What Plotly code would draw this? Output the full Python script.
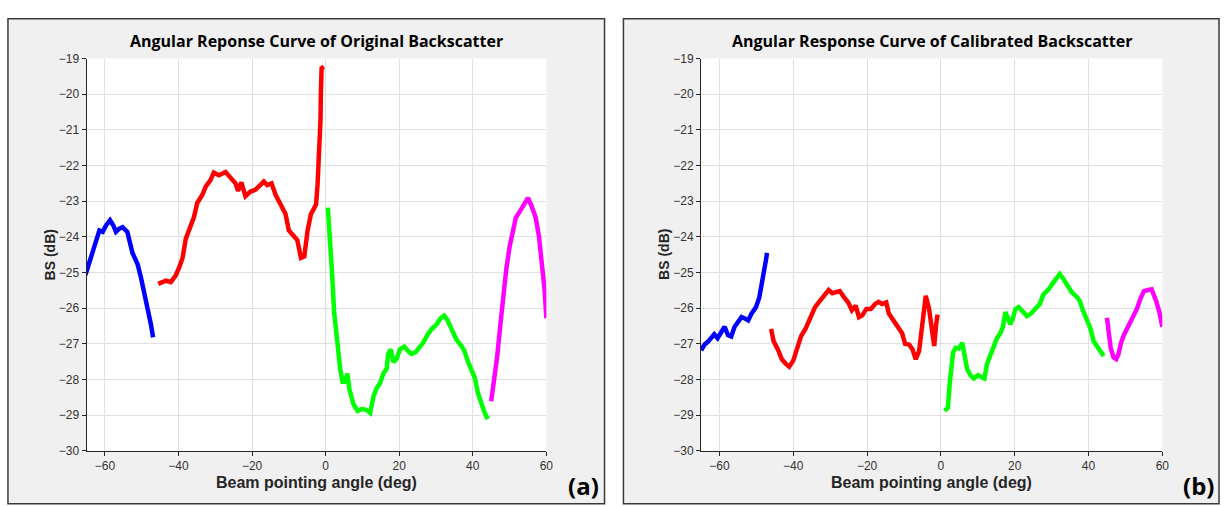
import plotly.graph_objects as go

W, H = 1227, 506

# ---------------- data: original backscatter (panel a) ----------------
a_blue_x = [-65.3, -64.2, -63.3, -62.4, -61.5, -60.6, -59.7, -58.6, -57.7, -57.0, -56.1, -55.2, -53.9, -52.5, -51.1, -50.2, -49.3, -48.4, -47.5, -46.9]
a_blue_y = [-25.07, -24.68, -24.36, -24.14, -23.82, -23.86, -23.68, -23.53, -23.68, -23.86, -23.77, -23.73, -23.86, -24.45, -24.77, -25.14, -25.55, -25.91, -26.45, -26.82]

a_red_x = [-45.5, -44.3, -43.4, -42.1, -40.8, -39.8, -38.9, -38.0, -36.7, -35.8, -34.9, -33.5, -32.6, -31.3, -30.4, -29.0, -27.2, -25.9, -24.5, -23.8, -22.9, -21.8, -20.4, -19.1, -17.7, -16.8, -15.9, -14.7, -13.6, -12.3, -10.9, -10.0, -8.6, -7.7, -6.7, -5.8, -4.9, -4.0, -3.3, -2.6, -2.2, -1.7, -1.4, -1.3, -1.1, -0.5]
a_red_y = [-25.32, -25.27, -25.23, -25.27, -25.09, -24.86, -24.59, -24.05, -23.73, -23.45, -23.05, -22.82, -22.59, -22.41, -22.20, -22.27, -22.18, -22.32, -22.50, -22.71, -22.47, -22.86, -22.73, -22.68, -22.55, -22.45, -22.55, -22.50, -22.82, -23.09, -23.36, -23.82, -24.00, -24.09, -24.59, -24.55, -23.82, -23.36, -23.23, -23.09, -22.55, -21.64, -20.73, -20.00, -19.27, -19.23]

a_green_x = [0.6, 1.3, 1.8, 2.3, 3.1, 4.0, 4.6, 5.3, 5.9, 6.5, 7.6, 8.7, 9.8, 11.0, 12.1, 13.0, 13.9, 14.8, 15.7, 16.6, 17.0, 17.7, 18.4, 19.3, 20.2, 21.4, 22.3, 23.3, 24.4, 25.6, 26.5, 27.7, 28.7, 30.1, 31.3, 32.2, 33.1, 34.3, 35.5, 36.9, 37.7, 38.6, 39.7, 40.6, 41.4, 42.3, 43.2, 44.1]
a_green_y = [-23.18, -24.09, -25.10, -26.10, -26.92, -27.74, -28.06, -28.06, -27.83, -28.29, -28.70, -28.88, -28.83, -28.85, -28.94, -28.47, -28.24, -28.10, -27.83, -27.69, -27.28, -27.15, -27.51, -27.42, -27.15, -27.08, -27.19, -27.28, -27.24, -27.10, -26.97, -26.74, -26.60, -26.46, -26.28, -26.21, -26.33, -26.60, -26.87, -27.06, -27.19, -27.47, -27.74, -27.97, -28.38, -28.70, -28.93, -29.11]

a_mag_x = [45.0, 45.7, 46.6, 47.5, 48.4, 49.1, 50.0, 50.9, 51.7, 52.9, 54.0, 55.0, 56.0, 57.1, 58.0, 58.9, 59.5, 60.0]
a_mag_y = [-28.61, -28.10, -27.38, -26.46, -25.55, -24.91, -24.28, -23.77, -23.46, -23.27, -23.09, -22.91, -23.14, -23.46, -24.00, -24.82, -25.46, -26.28]

# ---------------- data: calibrated backscatter (panel b) ----------------
b_blue_x = [-64.95, -64.05, -63.2, -62.3, -61.4, -60.5, -59.5, -58.6, -57.7, -56.8, -55.9, -55.0, -54.0, -53.1, -52.2, -51.3, -50.1, -49.2, -48.5, -47.8, -47.4, -47.1]
b_blue_y = [-27.18, -27.02, -26.95, -26.84, -26.73, -26.84, -26.64, -26.52, -26.75, -26.79, -26.52, -26.38, -26.25, -26.29, -26.34, -26.15, -25.97, -25.70, -25.34, -24.93, -24.65, -24.45]

b_red_x = [-46.0, -45.3, -44.2, -43.1, -42.0, -41.1, -40.0, -38.8, -37.9, -36.6, -35.2, -34.1, -33.0, -31.6, -30.4, -29.4, -28.5, -27.4, -26.2, -25.1, -24.1, -23.1, -22.2, -21.3, -20.2, -19.0, -17.8, -16.9, -15.9, -14.8, -14.1, -12.7, -11.5, -10.5, -9.7, -8.6, -7.7, -6.8, -5.9, -5.0, -4.1, -3.2, -2.3, -1.8, -1.3, -0.9]
b_red_y = [-26.58, -26.93, -27.15, -27.43, -27.56, -27.64, -27.47, -27.11, -26.79, -26.56, -26.20, -25.97, -25.82, -25.65, -25.49, -25.58, -25.56, -25.52, -25.70, -25.84, -26.06, -25.93, -26.25, -26.20, -26.02, -26.02, -25.88, -25.82, -25.88, -25.84, -26.15, -26.38, -26.56, -26.70, -27.00, -27.02, -27.15, -27.43, -27.20, -26.47, -25.65, -26.02, -26.84, -27.06, -26.47, -26.18]

b_green_x = [1.0, 1.9, 2.4, 2.8, 3.3, 4.0, 4.9, 5.8, 6.4, 7.1, 8.0, 8.9, 10.0, 11.2, 11.8, 12.5, 13.4, 14.3, 15.2, 16.1, 16.8, 17.5, 18.1, 18.8, 19.5, 20.2, 21.1, 22.3, 23.3, 24.4, 25.6, 26.8, 27.8, 29.2, 30.4, 31.4, 32.2, 33.2, 34.3, 35.5, 36.7, 37.6, 38.5, 39.4, 40.5, 41.4, 42.3, 43.2, 44.1]
b_green_y = [-28.88, -28.79, -28.11, -27.56, -27.25, -27.11, -27.13, -26.97, -27.38, -27.70, -27.88, -27.97, -27.88, -27.95, -27.97, -27.56, -27.29, -27.11, -26.84, -26.70, -26.52, -26.11, -26.25, -26.45, -26.29, -26.02, -25.97, -26.11, -26.22, -26.15, -26.02, -25.88, -25.61, -25.47, -25.29, -25.13, -25.04, -25.18, -25.38, -25.56, -25.67, -25.79, -26.06, -26.29, -26.56, -26.93, -27.06, -27.20, -27.34]

b_mag_x = [45.0, 45.4, 46.0, 46.8, 47.5, 48.1, 48.8, 49.6, 50.8, 52.0, 53.1, 54.0, 55.0, 56.2, 57.1, 58.3, 59.2, 60.0]
b_mag_y = [-26.27, -26.75, -27.11, -27.38, -27.43, -27.29, -26.97, -26.75, -26.52, -26.25, -26.02, -25.75, -25.52, -25.49, -25.47, -25.79, -26.11, -26.52]

titles = ["Angular Reponse Curve of Original Backscatter", "Angular Response Curve of Calibrated Backscatter"]
panel_tags = ["(a)", "(b)"]
x_title = "Beam pointing angle (deg)"
y_title = "BS (dB)"
x_ticks = [-60, -40, -20, 0, 20, 40, 60]
y_ticks = [-30, -29, -28, -27, -26, -25, -24, -23, -22, -21, -20, -19]

colors = ["#0000ff", "#ff0000", "#00ff00", "#ff00ff"]

fig = go.Figure()

panels = [
    [(a_blue_x, a_blue_y), (a_red_x, a_red_y), (a_green_x, a_green_y), (a_mag_x, a_mag_y)],
    [(b_blue_x, b_blue_y), (b_red_x, b_red_y), (b_green_x, b_green_y), (b_mag_x, b_mag_y)],
]
for p, series in enumerate(panels):
    xa = "x" if p == 0 else "x2"
    ya = "y" if p == 0 else "y2"
    for (xs, ys), c in zip(series, colors):
        fig.add_trace(go.Scatter(x=xs, y=ys, mode="lines", xaxis=xa, yaxis=ya,
                                 line=dict(color=c, width=4.5), showlegend=False,
                                 hoverinfo="skip"))

def px_x(v):
    return v / W

def px_y(v):
    return 1 - v / H

plot_left = [87, 705]
plot_right = [549.5, 1169]
plot_top, plot_bottom = 53, 456.5
frames = [(8, 608), (627, 1226)]

axis_common = dict(showgrid=True, gridcolor="#e0e0e0", gridwidth=1, zeroline=False,
                   showline=True, linecolor="#262626", linewidth=1, ticks="outside",
                   ticklen=4, tickcolor="#262626", mirror=False,
                   tickfont=dict(family="Liberation Sans, Arial", size=12, color="#333333"))

layout_axes = {}
for p in range(2):
    sx = "xaxis" if p == 0 else "xaxis2"
    sy = "yaxis" if p == 0 else "yaxis2"
    layout_axes[sx] = dict(axis_common, domain=[px_x(plot_left[p]), px_x(plot_right[p])],
                           range=[-65, 60], tickvals=x_ticks,
                           anchor="y" if p == 0 else "y2")
    layout_axes[sy] = dict(axis_common, domain=[px_y(plot_bottom), px_y(plot_top)],
                           range=[-30, -19], tickvals=y_ticks,
                           anchor="x" if p == 0 else "x2")

shapes = []
annotations = []
for p in range(2):
    fl, fr = frames[p]
    # grey figure frame
    shapes.append(dict(type="rect", xref="paper", yref="paper", layer="below",
                       x0=px_x(fl), x1=px_x(fr), y0=px_y(H + 5), y1=px_y(12),
                       fillcolor="#f0f0f0", line=dict(color="#3a3a3a", width=1.5)))
    # white axes background (drawn over the grey frame, under the grid)
    shapes.append(dict(type="rect", xref="paper", yref="paper", layer="below",
                       x0=px_x(plot_left[p]), x1=px_x(plot_right[p]),
                       y0=px_y(plot_bottom), y1=px_y(plot_top),
                       fillcolor="#ffffff", line=dict(width=0)))
    cx = (plot_left[p] + plot_right[p]) / 2
    annotations.append(dict(text="<b>" + titles[p] + "</b>", x=px_x(cx), y=px_y(35),
                            xref="paper", yref="paper", showarrow=False,
                            xanchor="center", yanchor="middle",
                            font=dict(family="Open Sans", size=16, color="#000000")))
    annotations.append(dict(text="<b>" + x_title + "</b>", x=px_x(cx), y=px_y(489),
                            xref="paper", yref="paper", showarrow=False,
                            xanchor="center", yanchor="middle",
                            font=dict(family="Liberation Sans, Arial", size=16, color="#262626")))
    annotations.append(dict(text="<b>" + y_title + "</b>", x=px_x(plot_left[p] - 37),
                            y=px_y((plot_top + plot_bottom) / 2),
                            xref="paper", yref="paper", showarrow=False, textangle=-90,
                            xanchor="center", yanchor="middle",
                            font=dict(family="Liberation Sans, Arial", size=14, color="#262626")))
    annotations.append(dict(text="<b>" + panel_tags[p] + "</b>", x=px_x(fr - 21), y=px_y(492),
                            xref="paper", yref="paper", showarrow=False,
                            xanchor="center", yanchor="middle",
                            font=dict(family="Open Sans", size=24, color="#000000")))

fig.update_layout(width=W, height=H, margin=dict(l=0, r=0, t=0, b=0),
                  paper_bgcolor="#ffffff", plot_bgcolor="#ffffff",
                  shapes=shapes, annotations=annotations, **layout_axes)

fig.write_html("out.html")
